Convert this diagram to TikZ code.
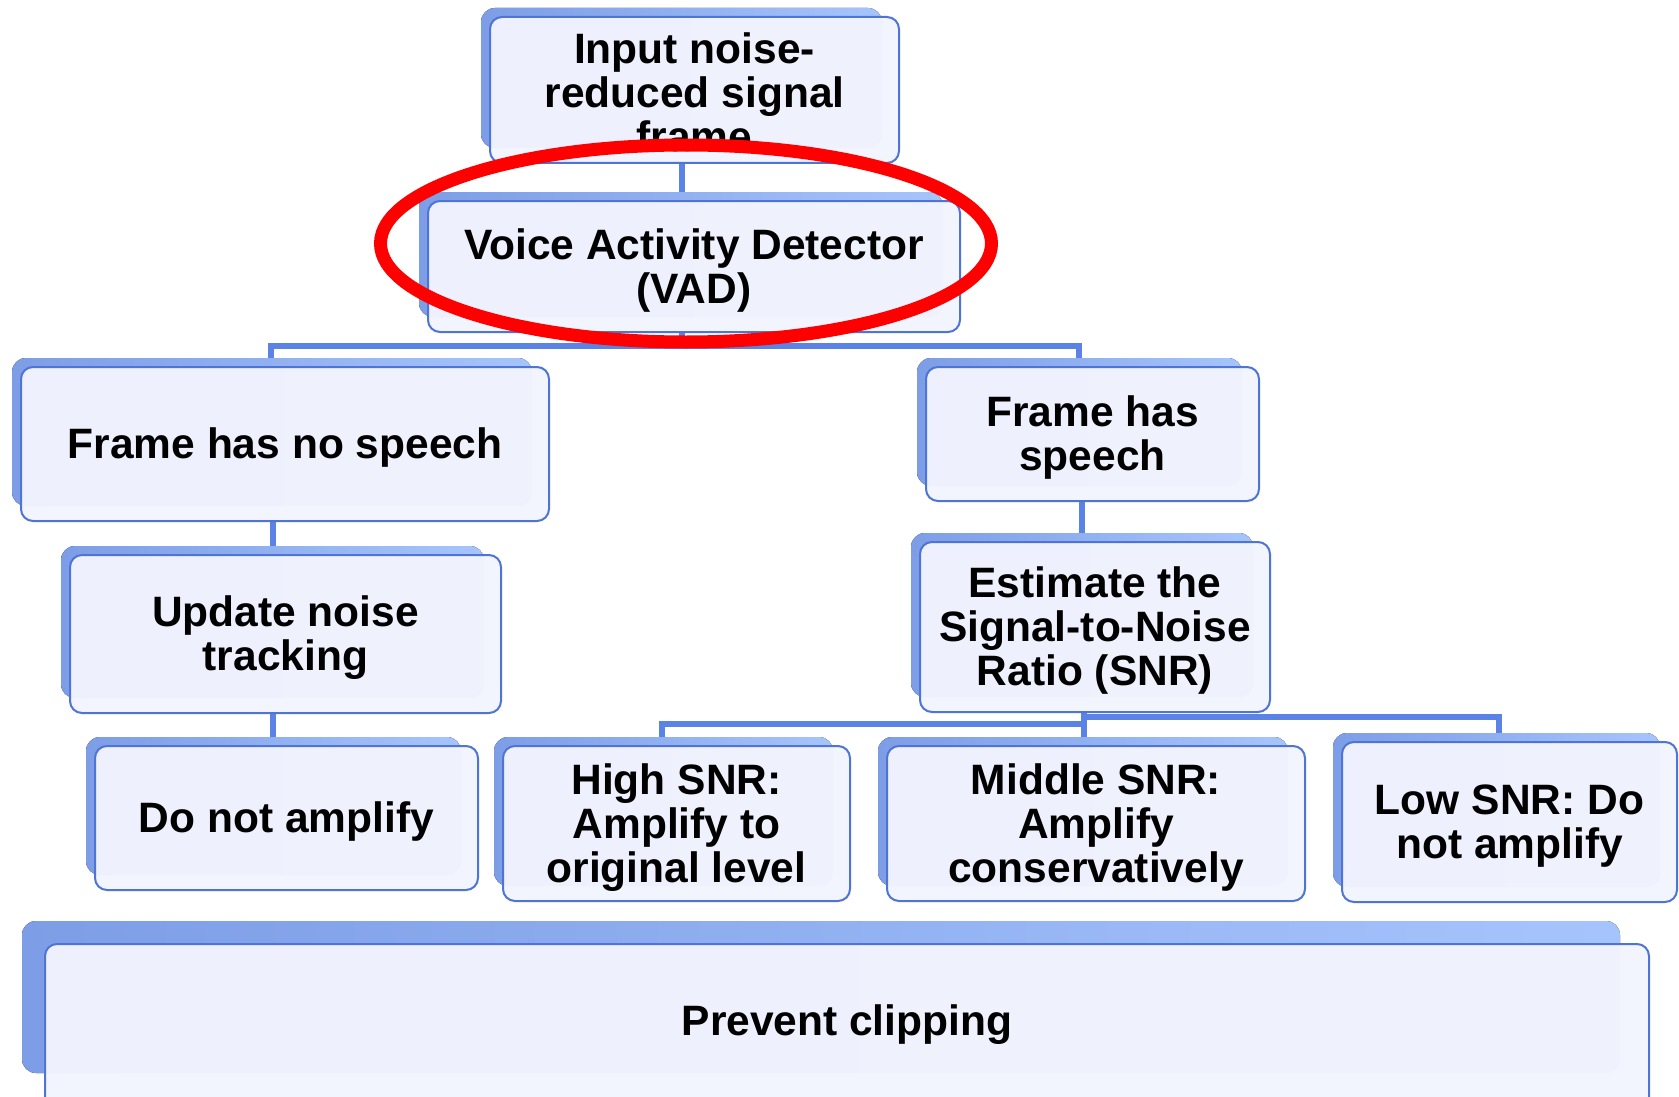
\documentclass[tikz,border=0pt]{standalone}
\usepackage{fontspec}
\setmainfont{Liberation Sans}
\usetikzlibrary{shapes.geometric}
\definecolor{conncol}{HTML}{5B83E6}
\definecolor{bordcol}{HTML}{4E74D6}
\definecolor{frontfill}{HTML}{F2F4FE}
\definecolor{backL}{HTML}{7D9DE6}
\definecolor{backR}{HTML}{A6C4FC}
\pgfdeclarelayer{paper}
\pgfdeclarelayer{bg}
\pgfsetlayers{paper,bg,main}
\tikzset{
  backbox/.style={left color=backL, right color=backR, rounded corners=14pt},
  frontbox/.style={rectangle, draw=bordcol, line width=2pt, fill=frontfill, fill opacity=0.97,
    rounded corners=12pt, inner sep=0pt, outer sep=0pt},
  lbl/.style={align=center, font=\fontsize{42.5}{44}\selectfont\bfseries, text=black, inner sep=0pt},
  conn/.style={draw=conncol, line width=5.5pt},
  hilite/.style={ellipse, draw=red, line width=13pt, inner sep=0pt}
}
% name, x1, y1, x2, y2, text yshift, text
\newcommand\dbox[7]{%
  \fill[backbox] (#2-9,#3-9) rectangle (#4-17,#5-15);
  \node[frontbox, minimum width={#4-#2}, minimum height={#5-#3}] (#1) at ({(#2+#4)/2},{(#3+#5)/2}) {};
  \node[lbl] (#1-t) at ([yshift=#6]#1.center) {#7};
}
\begin{document}
\begin{tikzpicture}[x=1pt,y=-1pt]
\useasboundingbox (0,0) rectangle (1679,1097);
\begin{pgfonlayer}{paper}
\fill[white] (0,0) rectangle (1679,1097);
\end{pgfonlayer}

\dbox{inp}{490}{17}{899}{163}{-2pt}{Input noise-\\reduced signal\\frame}
\dbox{vad}{428}{201}{960}{332}{-4pt}{Voice Activity Detector\\(VAD)}
\dbox{nosp}{21}{367}{549}{521}{-4pt}{Frame has no speech}
\dbox{sp}{926}{367}{1259}{501}{-4pt}{Frame has\\speech}
\dbox{upd}{70}{555}{501}{713}{-4pt}{Update noise\\tracking}
\dbox{dna}{95}{746}{478}{890}{-4pt}{Do not amplify}
\dbox{est}{920}{542}{1270}{712}{-4pt}{Estimate the\\Signal-to-Noise\\Ratio (SNR)}
\dbox{high}{503}{746}{850}{901}{-4pt}{High SNR:\\Amplify to\\original level}
\dbox{mid}{887}{746}{1305}{901}{-4pt}{Middle SNR:\\Amplify\\conservatively}
\dbox{low}{1342}{742}{1677}{902}{-4pt}{Low SNR: Do\\not amplify}

% Prevent clipping (larger offset)
\fill[backbox] (22,921) rectangle (1620,1073);
\node[frontbox, minimum width=1604, minimum height=171] (prev) at (847,1029.5) {};
\node[lbl] (prev-t) at (847,1025) {Prevent clipping};

% connectors
\coordinate (b1) at (682,346);
\coordinate (bL) at (271,346);
\coordinate (bR) at (1079,346);
\coordinate (xl) at (273,0);
\coordinate (xs) at (1082,0);
\coordinate (e0) at (1084,724);
\coordinate (eH) at (662,724);
\coordinate (eR) at (1084,717);
\coordinate (eLow) at (1499,717);
\begin{pgfonlayer}{bg}
  \draw[conn] (inp.south -| b1) -- (vad.north -| b1);
  \draw[conn] (vad.south -| b1) -- (b1);
  \draw[conn] (nosp.north -| bL) -- (bL) -- (bR) -- (sp.north -| bR);
  \draw[conn] (nosp.south -| xl) -- (upd.north -| xl);
  \draw[conn] (upd.south -| xl) -- (dna.north -| xl);
  \draw[conn] (sp.south -| xs) -- (est.north -| xs);
  \draw[conn] (est.south -| e0) -- (mid.north -| e0);
  \draw[conn] (high.north -| eH) -- (eH) -- (e0);
  \draw[conn] (eR) -- (eLow) -- (low.north -| eLow);
\end{pgfonlayer}

% highlight
\node[hilite, minimum width=611, minimum height=197] (hl) at (686,243.5) {};
\end{tikzpicture}
\end{document}
